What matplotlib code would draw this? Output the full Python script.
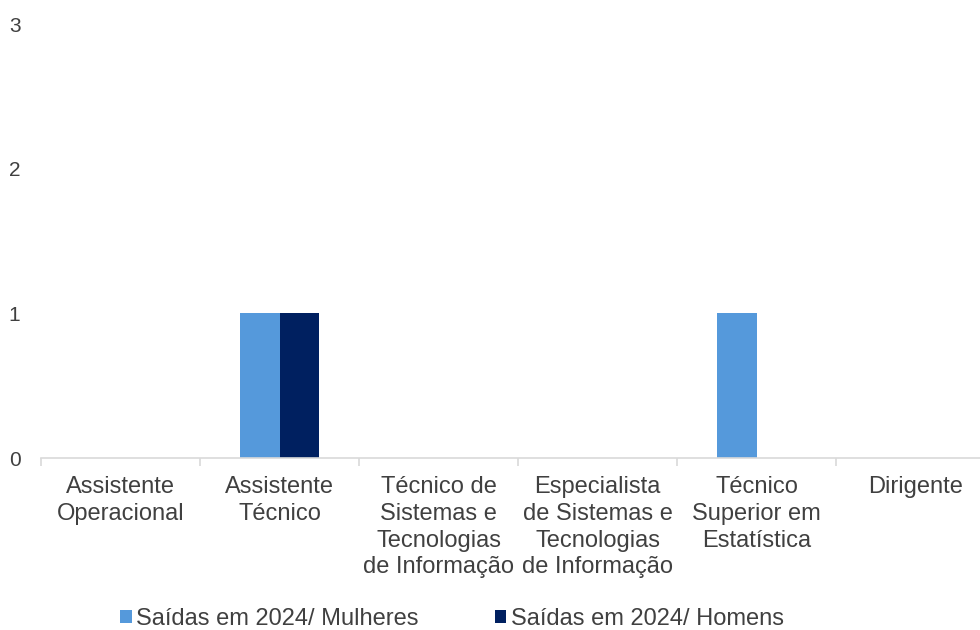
import matplotlib.pyplot as plt
import numpy as np

plt.rcParams['font.family'] = ['Liberation Sans', 'DejaVu Sans']

categories = ["Assistente\nOperacional", "Assistente\nTécnico",
              "Técnico de\nSistemas e\nTecnologias\nde Informação",
              "Especialista\nde Sistemas e\nTecnologias\nde Informação",
              "Técnico\nSuperior em\nEstatística", "Dirigente"]
mulheres = [0, 1, 0, 0, 1, 0]
homens = [0, 1, 0, 0, 0, 0]
series_names = ["Saídas em 2024/ Mulheres", "Saídas em 2024/ Homens"]
y_ticks = [0, 1, 2, 3]

text_col = '#404040'
fig = plt.figure(figsize=(9.8, 6.3), dpi=100)
ax = fig.add_axes([41/980, 172/630, 954/980, 434/630])

x = np.arange(len(categories))
w = 0.25
b1 = ax.bar(x - w/2, mulheres, w, color='#5599DB', label=series_names[0])
b2 = ax.bar(x + w/2, homens, w, color='#002060', label=series_names[1])

ax.set_xlim(-0.5, len(categories) - 0.5)
ax.set_ylim(0, 3)
ax.set_yticks(y_ticks)
ax.tick_params(axis='y', length=0, pad=19, labelsize=15, labelcolor=text_col)
for lbl in ax.get_yticklabels():
    lbl.set_horizontalalignment('center')

ax.set_xticks(x)
ax.set_xticklabels(categories, fontsize=17, color=text_col, linespacing=1.28)
ax.tick_params(axis='x', length=0, pad=13)
ax.set_xticks(np.arange(len(categories) + 1) - 0.5, minor=True)
ax.tick_params(axis='x', which='minor', length=6, color='#D9D9D9', width=1.2)

for s in ['top', 'right', 'left']:
    ax.spines[s].set_visible(False)
ax.spines['bottom'].set_color('#D9D9D9')
ax.spines['bottom'].set_linewidth(1.2)

fig.legend(handles=[b1, b2], loc='center', bbox_to_anchor=(452/980, 11/630),
           ncol=2, frameon=False, fontsize=17, labelcolor=text_col,
           handlelength=0.5, handleheight=0.5, handletextpad=0.2,
           columnspacing=3.2)

fig.savefig('out.png', dpi=100)
